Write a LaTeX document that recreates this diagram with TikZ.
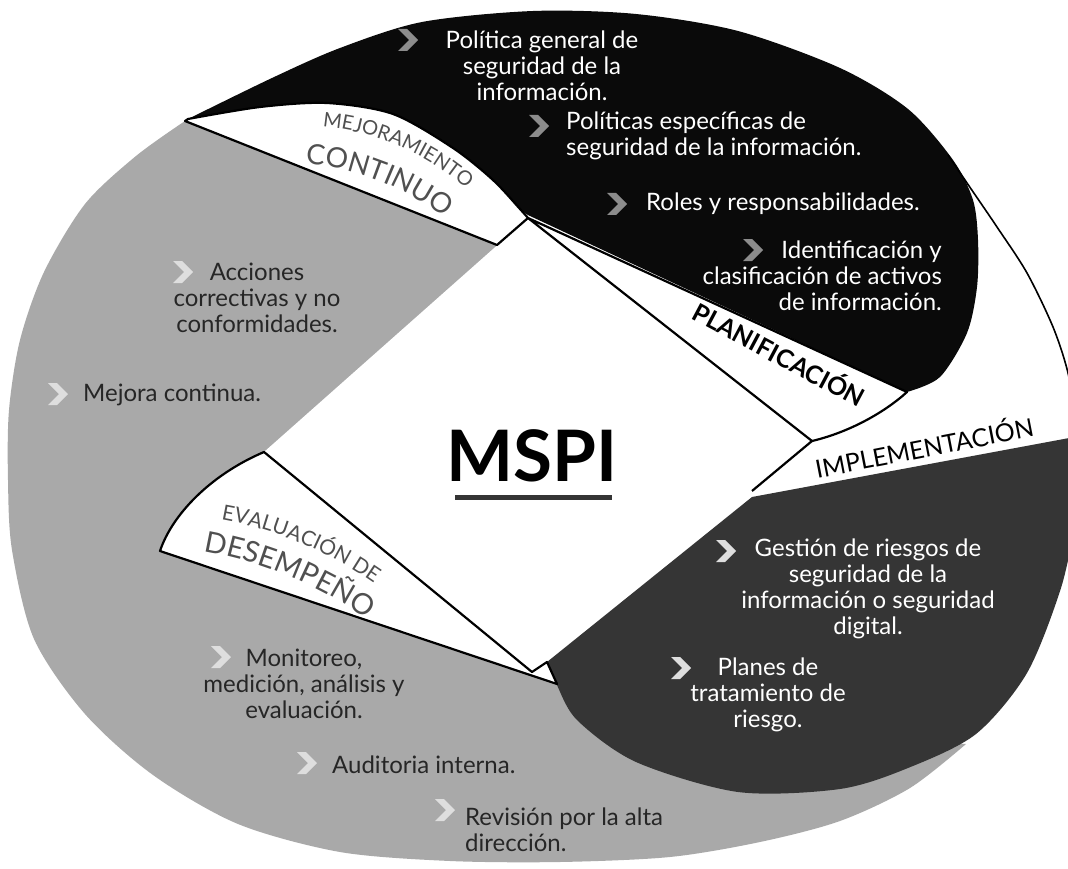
\documentclass[tikz,border=0pt]{standalone}
\usepackage{fontspec}
\setmainfont{Lato}
\usetikzlibrary{decorations.text}
\definecolor{blk}{HTML}{0A0A0A}
\definecolor{dkg}{HTML}{353535}
\definecolor{ltg}{HTML}{A9A9A9}
\definecolor{labgray}{HTML}{505050}
\definecolor{chevdark}{HTML}{8C8C8C}
\definecolor{chevlight}{HTML}{DEDEDE}
\begin{document}
\begin{tikzpicture}[x=1pt,y=-1pt,
  band/.style={fill=white,draw=black,line width=2.2pt,line join=round},
  body/.style={font=\fontsize{24}{26}\selectfont,inner sep=0pt},
  wtext/.style={body,text=white},
  ktext/.style={body,text=black!85},
  lab/.style={font=\fontsize{25}{27}\selectfont,inner sep=0pt,text=black},
  chev/.pic={\fill[#1] (-10,-11) -- (-1,-11) -- (10,0) -- (-1,11) -- (-10,11) -- (1,0) -- cycle;}
]
\useasboundingbox (0,0) rectangle (1068,869);
\fill[white] (0,0) rectangle (1068,869);

% light gray region
\fill[ltg] plot[smooth] coordinates {(185,121) (136,156) (85,204) (44,272) (20,340) (9,410) (8,480) (12,550) (34,639) (85,714) (153,775) (238,824) (340,852) (450,861) (560,862) (670,857) (760,842) (840,821) (910,788) (966,744)} -- (700,725) -- (600,700) -- (565,672) -- (532,672) -- (535,447) -- (528,218) -- cycle;

% black region
\fill[blk] plot[smooth] coordinates {(188,119) (272,78) (340,48) (422,22) (533,11) (636,14) (738,31) (840,68) (908,109) (953,160) (973,200) (978,240) (977,287) (967,333) (940,377) (907,392)} -- (530,216) -- plot[smooth] coordinates {(530,216) (520,209) (493,180) (453,148) (393,114) (327,103) (260,107) (188,119)} -- cycle;

% outer thin line
\draw[line width=1.6pt] plot[smooth] coordinates {(948,155) (967,183) (997,227) (1027,273) (1053,327) (1068,373) (1078,430)};

% dark gray region
\fill[dkg] (752,497) -- (1080,436) -- plot[smooth] coordinates {(1076,520) (1061,588) (1027,673) (976,734) (908,768) (840,789) (738,792) (636,762) (577,720) (556,683) (547,662)} -- cycle;

% central diamond
\fill[white] (528,218) -- (812,441) -- (532,672) -- (264,452) -- cycle;

% bands
\filldraw[band] (185,121) -- (497,245) -- (528,218) -- plot[smooth] coordinates {(528,218) (520,209) (493,180) (453,148) (393,114) (327,103) (260,107) (188,119)} -- cycle;
\filldraw[band] (528,218) -- (812,441) .. controls (850,432) and (885,412) .. (907,392) -- cycle;
\draw[line width=2.2pt] (812,441) -- (752,491);
\filldraw[band] (264,452) .. controls (210,475) and (172,515) .. (160,551) -- (557,684) -- (547,662) -- (532,672) -- cycle;

% centre title
\node[font=\fontsize{71}{71}\selectfont\bfseries,inner sep=0pt] (mspi) at (532,456) {MSPI};
\coordinate (ula) at (455,497);
\coordinate (ulb) at (612,497);
\draw[line width=5pt,dkg] (ula) -- (ulb);

% stage labels
\node[lab,rotate=-28,font=\fontsize{25}{27}\selectfont\bfseries] (plan) at (780,353) {PLANIFICACIÓN};
\node[lab,rotate=11] (impl) at (924,446) {IMPLEMENTACIÓN};
\path[decorate,decoration={text along path,text align=center,
  text={|\fontsize{20}{20}\selectfont\color{labgray}|MEJORAMIENTO}}]
  (298,126) .. controls (360,124) and (432,150) .. (484,206);
\path[decorate,decoration={text along path,text align=center,
  text={|\fontsize{28}{28}\selectfont\color{labgray}|CONTINUO}}]
  (283,163) .. controls (348,163) and (410,186) .. (462,232);
\path[decorate,decoration={text along path,text align=center,
  text={|\fontsize{21}{21}\selectfont\color{labgray}|EVALUACIÓN DE}}]
  (194,516) .. controls (258,522) and (332,548) .. (396,600);
\path[decorate,decoration={text along path,text align=center,
  text={|\fontsize{29}{29}\selectfont\color{labgray}|DESEMPEÑO}}]
  (178,548) .. controls (248,555) and (320,582) .. (388,634);

% chevrons
\pic at (408,40) {chev=chevdark};
\pic at (539,126) {chev=chevdark};
\pic at (617,204) {chev=chevdark};
\pic at (753,250) {chev=chevdark};
\pic at (183,272) {chev=chevlight};
\pic at (58,394) {chev=chevlight};
\pic at (221,657) {chev=chevlight};
\pic at (307,763) {chev=chevlight};
\pic at (445,810) {chev=chevlight};
\pic at (726,551) {chev=chevlight};
\pic at (681,668) {chev=chevlight};

% texts
\node[wtext,align=center] (t1) at (542,66) {Política general de\\seguridad de la\\información.};
\node[wtext,align=left,anchor=west] (t2) at (566,136) {Políticas específicas de\\seguridad de la información.};
\node[wtext,anchor=west] (t3) at (646,204) {Roles y responsabilidades.};
\node[wtext,align=right,anchor=east] (t4) at (942,276) {Identificación y\\clasificación de activos\\de información.};
\node[ktext,align=center] (t5) at (257,298) {Acciones\\correctivas y no\\conformidades.};
\node[ktext,anchor=west] (t6) at (83,395) {Mejora continua.};
\node[ktext,align=center] (t7) at (304,684) {Monitoreo,\\medición, análisis y\\evaluación.};
\node[ktext,anchor=west] (t8) at (332,765) {Auditoria interna.};
\node[ktext,align=left,anchor=west] (t9) at (465,830) {Revisión por la alta\\dirección.};
\node[wtext,align=center] (t10) at (868,589) {Gestión de riesgos de\\seguridad de la\\información o seguridad\\digital.};
\node[wtext,align=center] (t11) at (768,695) {Planes de\\tratamiento de\\riesgo.};
\end{tikzpicture}
\end{document}
